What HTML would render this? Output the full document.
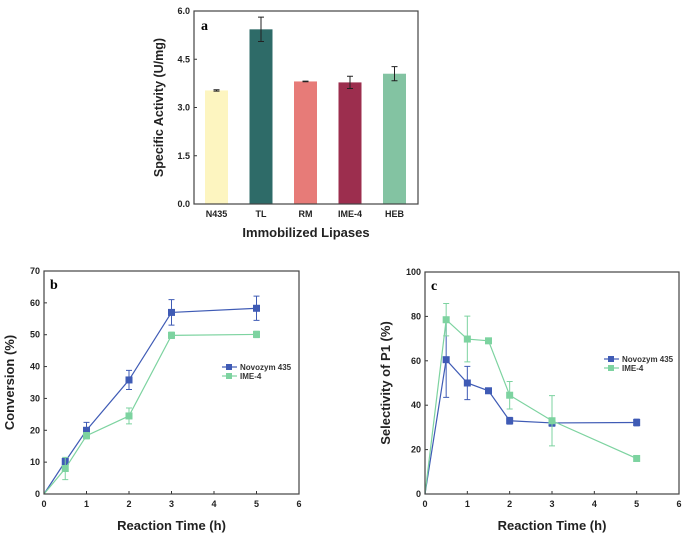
<!DOCTYPE html>
<html><head><meta charset="utf-8"><style>
body{margin:0;background:#fff}
svg{display:block;font-family:"Liberation Sans",Arial,sans-serif}
</style></head><body>
<svg id="s" width="685" height="540" viewBox="0 0 685 540" xmlns="http://www.w3.org/2000/svg"></svg>
<script>
// Panel a data
const aCats=["N435","TL","RM","IME-4","HEB"];
const aVals=[3.53,5.43,3.81,3.78,4.05];
const aErr=[0.02,0.38,0.01,0.19,0.22];
const aColors=["#fdf5c0","#2e6b68","#e77b78","#9c2e4e","#83c3a2"];
const aTicks=["0.0","1.5","3.0","4.5","6.0"];
// Panel b data
const tB=[0,0.5,1,2,3,5];
const bNovo=[0,10.2,20,35.8,57,58.3];
const bNovoErr=[0,1,2.5,3,4,3.8];
const bIme=[0,8,18.3,24.5,49.8,50.1];
const bImeErr=[0,3.5,1,2.5,1,1];
const bTicks=[0,10,20,30,40,50,60,70];
// Panel c data
const tC=[0,0.5,1,1.5,2,3,5];
const cNovo=[0,60.5,50,46.5,33,32,32.2];
const cNovoErr=[0,17,7.5,1,1.5,1.5,1.5];
const cIme=[0,78.5,69.8,69,44.5,33,16];
const cImeErr=[0,7.3,10.3,0.5,6.2,11.3,0.5];
const cTicks=[0,20,40,60,80,100];
const xTicks=[0,1,2,3,4,5,6];

const S=document.getElementById('s');const NS="http://www.w3.org/2000/svg";
function el(t,a,txt){const e=document.createElementNS(NS,t);for(const k in a)e.setAttribute(k,a[k]);if(txt!==undefined)e.textContent=txt;S.appendChild(e);return e;}
const BLUE="#3f5bb5",GREEN="#7dd3a0";

// ---- Panel a
(function(){
const L=194,R=418,T=11,B=204;
const y=v=>B-(v/6)*(B-T);
const step=44.5,x0=216.5;
aCats.forEach((c,i)=>{
 const cx=x0+i*step;
 const r=el('rect',{x:cx-11.5,y:y(aVals[i]),width:23,height:B-y(aVals[i]),fill:aColors[i]});
 
 
 const e1=y(aVals[i]+aErr[i]),e2=y(aVals[i]-aErr[i]);
 const g=el('path',{d:`M${cx},${e1}V${e2}M${cx-3},${e1}H${cx+3}M${cx-3},${e2}H${cx+3}`,stroke:"#222","stroke-width":1,fill:"none"});
 
 
 const t=el('text',{x:cx,y:B+13,"font-size":9,"font-weight":"bold","text-anchor":"middle",fill:"#222"},c);
 
 
});
aTicks.forEach((lab,i)=>{
 const yy=y(i*1.5);
 el('line',{x1:L,x2:L+3,y1:yy,y2:yy,stroke:"#333"});
 const t=el('text',{x:L-4,y:yy+3,"font-size":9,"font-weight":"bold","text-anchor":"end",fill:"#222"},lab);
 
 
});
const f=el('rect',{x:L,y:T,width:R-L,height:B-T,fill:"none",stroke:"#444","stroke-width":1.2});


const pl=el('text',{x:L+7,y:T+19,"font-size":14,"font-weight":"bold","font-family":"Liberation Serif,serif"},"a");

const xt=el('text',{x:(L+R)/2,y:237,"font-size":13,"font-weight":"bold","text-anchor":"middle",fill:"#222"},"Immobilized Lipases");

const yt=el('text',{x:0,y:0,"font-size":12.5,"font-weight":"bold","text-anchor":"middle",fill:"#222",transform:`translate(163,${(T+B)/2}) rotate(-90)`},"Specific Activity (U/mg)");

})();

function linePanel(o){
 const {L,R,T,B,ymax,yticks,xs,series,label,ytitle,ytx,legX,legY,id}=o;
 const X=v=>L+v/6*(R-L),Y=v=>B-v/ymax*(B-T);
 xTicks.forEach(v=>{
  el('line',{x1:X(v),x2:X(v),y1:B,y2:B-3,stroke:"#333"});
  const t=el('text',{x:X(v),y:B+13,"font-size":9,"font-weight":"bold","text-anchor":"middle",fill:"#222"},String(v));
  
 });
 yticks.forEach(v=>{
  el('line',{x1:L,x2:L+3,y1:Y(v),y2:Y(v),stroke:"#333"});
  const t=el('text',{x:L-4,y:Y(v)+3,"font-size":9,"font-weight":"bold","text-anchor":"end",fill:"#222"},String(v));
  
 });
 series.forEach(s=>{
  const p=el('polyline',{points:xs.map((x,i)=>X(x)+","+Y(s.v[i])).join(" "),fill:"none",stroke:s.c,"stroke-width":1.2});
  
  xs.forEach((x,i)=>{
   if(s.e[i]>0){
    const e1=Y(s.v[i]+s.e[i]),e2=Y(s.v[i]-s.e[i]),cx=X(x);
    const g=el('path',{d:`M${cx},${e1}V${e2}M${cx-3},${e1}H${cx+3}M${cx-3},${e2}H${cx+3}`,stroke:s.c,"stroke-width":1,fill:"none"});
    
   }
   if(x===0) return;
   const m=el('rect',{x:X(x)-3.5,y:Y(s.v[i])-3.5,width:7,height:7,fill:s.c});
   
  });
 });
 const f=el('rect',{x:L,y:T,width:R-L,height:B-T,fill:"none",stroke:"#444","stroke-width":1.2});
 
 const pl=el('text',{x:L+6,y:T+18,"font-size":14,"font-weight":"bold","font-family":"Liberation Serif,serif"},label);
 
 const xt=el('text',{x:(L+R)/2,y:530,"font-size":13,"font-weight":"bold","text-anchor":"middle",fill:"#222"},"Reaction Time (h)");
 
 const yt=el('text',{x:0,y:0,"font-size":13,"font-weight":"bold","text-anchor":"middle",fill:"#222",transform:`translate(${ytx},${(T+B)/2}) rotate(-90)`},ytitle);
 
 series.forEach((s,i)=>{
  const yy=legY+i*9;
  el('line',{x1:legX,x2:legX+15,y1:yy,y2:yy,stroke:s.c,"stroke-width":1.2});
  el('rect',{x:legX+4,y:yy-3,width:6,height:6,fill:s.c});
  const t=el('text',{x:legX+18,y:yy+3,"font-size":8,"font-weight":"bold",fill:"#333"},s.name);
  
 });
}
linePanel({L:44,R:299,T:271,B:494,ymax:70,yticks:bTicks,xs:tB,id:"b",label:"b",ytitle:"Conversion (%)",ytx:14,legX:222,legY:367,
 series:[{n:"novozym",name:"Novozym 435",c:BLUE,v:bNovo,e:bNovoErr},{n:"ime4",name:"IME-4",c:GREEN,v:bIme,e:bImeErr}]});
linePanel({L:425,R:679,T:272,B:494,ymax:100,yticks:cTicks,xs:tC,id:"c",label:"c",ytitle:"Selectivity of P1 (%)",ytx:390,legX:604,legY:359,
 series:[{n:"novozym",name:"Novozym 435",c:BLUE,v:cNovo,e:cNovoErr},{n:"ime4",name:"IME-4",c:GREEN,v:cIme,e:cImeErr}]});
</script>
</body></html>
